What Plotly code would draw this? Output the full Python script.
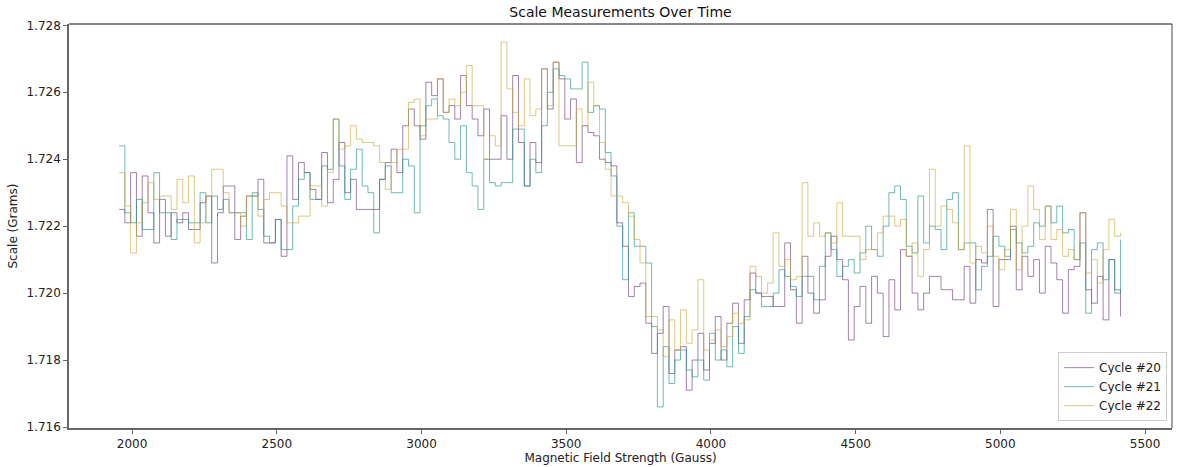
import numpy as np
import plotly.graph_objects as go

# Field strength sampling (Gauss), one reading every 20 G starting at 1955 G
field_start = 1955
field_step = 20

cycle_names = ["Cycle #20", "Cycle #21", "Cycle #22"]

cycle20 = [
    1.7225, 1.7221, 1.7236, 1.7217, 1.7235, 1.7224, 1.7215, 1.7228, 1.7217, 1.7224,
    1.7221, 1.7224, 1.7219, 1.7219, 1.7227, 1.7229, 1.7209, 1.7224, 1.7232, 1.7232,
    1.7216, 1.7223, 1.7229, 1.7229, 1.7234, 1.7215, 1.7215, 1.7222, 1.7211, 1.7241,
    1.7228, 1.7239, 1.7236, 1.7231, 1.7228, 1.7242, 1.7227, 1.7234, 1.7245, 1.7230,
    1.7234, 1.7225, 1.7225, 1.7225, 1.7225, 1.7234, 1.7239, 1.7243, 1.7236, 1.7250,
    1.7255, 1.7250, 1.7246, 1.7263, 1.7259, 1.7264, 1.7254, 1.7256, 1.7252, 1.7265,
    1.7256, 1.7252, 1.7247, 1.7255, 1.7240, 1.7240, 1.7253, 1.7240, 1.7265, 1.7245,
    1.7232, 1.7245, 1.7239, 1.7267, 1.7255, 1.7269, 1.7264, 1.7252, 1.7258, 1.7239,
    1.7250, 1.7248, 1.7247, 1.7240, 1.7239, 1.7238, 1.7221, 1.7214, 1.7199, 1.7202,
    1.7203, 1.7191, 1.7182, 1.7188, 1.7196, 1.7176, 1.7183, 1.7184, 1.7171, 1.7180,
    1.7188, 1.7177, 1.7185, 1.7193, 1.7180, 1.7191, 1.7197, 1.7185, 1.7198, 1.7206,
    1.7200, 1.7199, 1.7199, 1.7196, 1.7196, 1.7215, 1.7201, 1.7191, 1.7211, 1.7200,
    1.7194, 1.7198, 1.7211, 1.7217, 1.7210, 1.7204, 1.7186, 1.7196, 1.7202, 1.7191,
    1.7205, 1.7200, 1.7187, 1.7204, 1.7195, 1.7213, 1.7211, 1.7200, 1.7195, 1.7200,
    1.7205, 1.7205, 1.7201, 1.7201, 1.7198, 1.7198, 1.7208, 1.7197, 1.7210, 1.7209,
    1.7225, 1.7196, 1.7210, 1.7210, 1.7220, 1.7201, 1.7211, 1.7205, 1.7210, 1.7200,
    1.7214, 1.7209, 1.7204, 1.7194, 1.7207, 1.7208, 1.7224, 1.7201, 1.7197, 1.7205,
    1.7192, 1.7210, 1.7201, 1.7193,
]

cycle21 = [
    1.7244, 1.7224, 1.7221, 1.7228, 1.7219, 1.7219, 1.7236, 1.7224, 1.7224, 1.7216,
    1.7222, 1.7222, 1.7221, 1.7221, 1.7230, 1.7221, 1.7229, 1.7225, 1.7228, 1.7224,
    1.7224, 1.7224, 1.7216, 1.7230, 1.7225, 1.7217, 1.7215, 1.7222, 1.7213, 1.7213,
    1.7226, 1.7234, 1.7236, 1.7228, 1.7228, 1.7238, 1.7237, 1.7252, 1.7238, 1.7228,
    1.7237, 1.7243, 1.7232, 1.7230, 1.7218, 1.7234, 1.7238, 1.7230, 1.7230, 1.7240,
    1.7238, 1.7224, 1.7250, 1.7256, 1.7258, 1.7253, 1.7252, 1.7245, 1.7240, 1.7250,
    1.7236, 1.7232, 1.7225, 1.7240, 1.7233, 1.7232, 1.7233, 1.7233, 1.7249, 1.7249,
    1.7232, 1.7240, 1.7236, 1.7250, 1.7260, 1.7267, 1.7265, 1.7264, 1.7261, 1.7261,
    1.7269, 1.7254, 1.7256, 1.7255, 1.7242, 1.7235, 1.7220, 1.7204, 1.7224, 1.7214,
    1.7214, 1.7209, 1.7190, 1.7166, 1.7184, 1.7173, 1.7180, 1.7183, 1.7177, 1.7175,
    1.7180, 1.7174, 1.7188, 1.7180, 1.7183, 1.7178, 1.7190, 1.7182, 1.7193, 1.7201,
    1.7200, 1.7196, 1.7196, 1.7200, 1.7207, 1.7205, 1.7202, 1.7199, 1.7205, 1.7205,
    1.7198, 1.7208, 1.7218, 1.7213, 1.7205, 1.7208, 1.7210, 1.7206, 1.7212, 1.7220,
    1.7213, 1.7211, 1.7220, 1.7230, 1.7232, 1.7228, 1.7214, 1.7212, 1.7229, 1.7215,
    1.7220, 1.7219, 1.7213, 1.7228, 1.7230, 1.7213, 1.7215, 1.7215, 1.7201, 1.7208,
    1.7211, 1.7217, 1.7214, 1.7211, 1.7219, 1.7215, 1.7212, 1.7214, 1.7221, 1.7220,
    1.7226, 1.7221, 1.7226, 1.7218, 1.7219, 1.7210, 1.7215, 1.7194, 1.7213, 1.7215,
    1.7204, 1.7210, 1.7200, 1.7216,
]

cycle22 = [
    1.7236, 1.7226, 1.7212, 1.7221, 1.7227, 1.7233, 1.7228, 1.7229, 1.7229, 1.7225,
    1.7234, 1.7227, 1.7235, 1.7215, 1.7221, 1.7229, 1.7237, 1.7237, 1.7230, 1.7224,
    1.7224, 1.7220, 1.7229, 1.7229, 1.7223, 1.7228, 1.7230, 1.7230, 1.7226, 1.7221,
    1.7221, 1.7223, 1.7223, 1.7232, 1.7232, 1.7226, 1.7236, 1.7252, 1.7243, 1.7244,
    1.7250, 1.7246, 1.7245, 1.7245, 1.7244, 1.7239, 1.7231, 1.7239, 1.7243, 1.7243,
    1.7257, 1.7258, 1.7247, 1.7252, 1.7252, 1.7264, 1.7254, 1.7258, 1.7256, 1.7260,
    1.7268, 1.7256, 1.7256, 1.7240, 1.7247, 1.7244, 1.7275, 1.7261, 1.7254, 1.7250,
    1.7264, 1.7253, 1.7255, 1.7267, 1.7256, 1.7269, 1.7244, 1.7244, 1.7244, 1.7255,
    1.7250, 1.7263, 1.7256, 1.7245, 1.7237, 1.7229, 1.7229, 1.7227, 1.7223, 1.7216,
    1.7209, 1.7193, 1.7193, 1.7189, 1.7181, 1.7192, 1.7183, 1.7195, 1.7185, 1.7189,
    1.7204, 1.7183, 1.7186, 1.7189, 1.7184, 1.7187, 1.7194, 1.7191, 1.7192, 1.7208,
    1.7205, 1.7200, 1.7203, 1.7218, 1.7208, 1.7210, 1.7204, 1.7205, 1.7233, 1.7217,
    1.7221, 1.7217, 1.7218, 1.7215, 1.7227, 1.7217, 1.7217, 1.7217, 1.7210, 1.7213,
    1.7213, 1.7218, 1.7223, 1.7223, 1.7220, 1.7222, 1.7211, 1.7215, 1.7205, 1.7213,
    1.7237, 1.7220, 1.7226, 1.7225, 1.7221, 1.7213, 1.7244, 1.7209, 1.7214, 1.7212,
    1.7220, 1.7211, 1.7207, 1.7213, 1.7225, 1.7207, 1.7220, 1.7232, 1.7225, 1.7216,
    1.7226, 1.7216, 1.7219, 1.7211, 1.7213, 1.7210, 1.7224, 1.7206, 1.7210, 1.7203,
    1.7213, 1.7222, 1.7217, 1.7218,
]

x_ticks = [2000, 2500, 3000, 3500, 4000, 4500, 5000, 5500]
y_ticks = [1.716, 1.718, 1.720, 1.722, 1.724, 1.726, 1.728]

colors = ["rgba(68,1,84,0.62)", "rgba(33,145,140,0.8)", "rgba(200,165,50,0.75)"]

FONT = "DejaVu Sans"
fig = go.Figure()
for name, vals, col in zip(cycle_names, [cycle20, cycle21, cycle22], colors):
    x = field_start + field_step * np.arange(len(vals))
    fig.add_trace(go.Scatter(
        x=x, y=vals, mode="lines", name=name,
        line=dict(color=col, width=0.8, shape="hv"),
    ))

fig.update_layout(
    width=1179, height=467,
    margin=dict(l=69, r=7, t=24, b=39, autoexpand=False),
    paper_bgcolor="white", plot_bgcolor="white",
    font=dict(family=FONT, size=12, color="#222"),
    title=dict(text="Scale Measurements Over Time", x=0.5, xref="paper",
               xanchor="center", y=1 - 12 / 467, yanchor="middle",
               font=dict(family=FONT, size=14, color="#111")),
    showlegend=True,
    legend=dict(x=0.9955, xanchor="right", y=0.017, yanchor="bottom",
                bgcolor="rgba(255,255,255,0.85)", bordercolor="#cccccc",
                borderwidth=1, font=dict(family=FONT, size=12, color="#222"),
                itemwidth=30, tracegroupgap=0),
)
fig.update_xaxes(
    range=[1782, 5593], tickvals=x_ticks, ticktext=[str(v) for v in x_ticks],
    showgrid=False, zeroline=False, showline=True, linecolor="#666",
    linewidth=1.5, ticks="outside", ticklen=4, tickcolor="#666", tickwidth=1,
    automargin=False,
    title=dict(text="Magnetic Field Strength (Gauss)", standoff=2,
               font=dict(family=FONT, size=12, color="#222")),
)
fig.update_yaxes(
    range=[1.71597, 1.72804], tickvals=y_ticks,
    ticktext=[f"{v:.3f}" for v in y_ticks],
    showgrid=False, zeroline=False, showline=True, linecolor="#666",
    linewidth=1.5, ticks="outside", ticklen=4, tickcolor="#666", tickwidth=1,
    automargin=False,
    title=dict(text="Scale (Grams)", standoff=6,
               font=dict(family=FONT, size=12, color="#222")),
)
# top and right frame lines
fig.add_shape(type="line", xref="paper", yref="paper", x0=0, x1=1, y0=1, y1=1,
              line=dict(color="#111", width=1))
fig.add_shape(type="line", xref="paper", yref="paper", x0=1, x1=1, y0=0, y1=1,
              line=dict(color="#444", width=1))

fig.write_html(
    "out.html",
    config={"displayModeBar": False},
    post_script="document.body.style.margin='0';document.body.style.overflow='hidden';",
)
